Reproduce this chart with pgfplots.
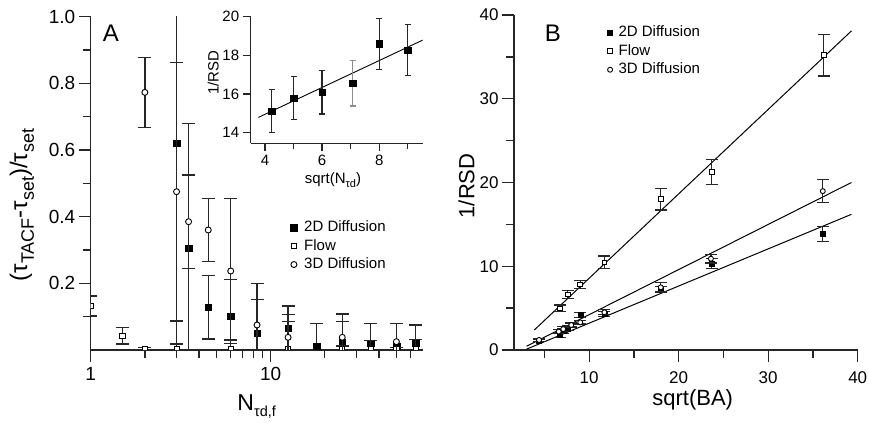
\documentclass[border=0pt]{standalone}
\usepackage{fontspec}
\setmainfont{Liberation Sans}
\usepackage{pgfplots}
\pgfplotsset{compat=1.18}
\newcommand\fs[1]{\fontsize{#1bp}{#1bp}\selectfont}
\newcommand\sub[2][15]{\raisebox{-0.28em}{\fs{#1}#2}}
\pgfplotsset{
  base/.style={
    scale only axis,
    axis x line=bottom, axis y line=left,
    axis line style={-, line width=1.4bp, black!85},
    tick align=outside,
    every tick/.style={line width=1.3bp, black!85},
    /pgf/number format/assume math mode=true,
    clip marker paths=true,
    error bars/error bar style={line width=1.3bp, black!85},
  },
  fsq/.style={only marks, mark=square*, mark size=#1, mark options={draw=black, fill=black}},
  osq/.style={only marks, mark=square*, mark size=#1, mark options={draw=black, fill=white, line width=0.9bp}},
  oci/.style={only marks, mark=*, mark size=#1, mark options={draw=black, fill=white, line width=0.9bp}},
  eb/.style={error bars/.cd, y dir=both, y explicit, error mark options={rotate=90, mark size=#1, line width=1.3bp, black!85}},
}
\begin{document}
\begin{tikzpicture}
% ---------------- Panel A ----------------
\begin{axis}[base, at={(90.7bp,76bp)}, anchor=south west, width=332bp, height=333.3bp,
  xmode=log, xmin=1, xmax=70, ymin=0, ymax=1,
  xtick={1,10}, xticklabels={1,10},
  minor xtick={2,3,4,5,6,7,8,9,20,30,40,50,60},
  ytick={0.2,0.4,0.6,0.8,1.0}, yticklabels={0.2,0.4,0.6,0.8,1.0},
  minor ytick={0.1,0.3,0.5,0.7,0.9},
  major tick length=12bp, minor tick length=8bp,
  ticklabel style={font=\fs{19}},
  xticklabel style={yshift=-2bp},
  xlabel={N\sub[14.5]{τd,f}},
  ylabel={(τ\sub[18]{TACF}-τ\sub[18]{set})/τ\sub[18]{set}},
  x label style={at={(axis description cs:0.5,-0.17)}, anchor=center, font=\fs{23}},
  y label style={at={(axis description cs:-0.207,0.435)}, anchor=center, font=\fs{24}},
  legend style={draw=none, fill=none, font=\fs{15}, at={(0.5925,0.398)}, anchor=north west,
    row sep=2.5bp, column sep=6bp, nodes={inner sep=1bp, text height=11bp, text depth=3bp}},
  legend cell align=left,
]
\addplot[fsq=3.3bp, eb=6.5bp] table[x=x, y=y, y error=e] {
x y e
3.0 0.62 0.70
3.5 0.305 0.375
4.5 0.128 0.095
6.0 0.102 0.11
8.4 0.05 0.102
12.5 0.065 0.067
18.0 0.012 0.068
25.0 0.023 0.062
36.0 0.020 0.060
50.0 0.012 0.068
64.0 0.020 0.055
};
\addlegendentry{2D Diffusion}
\addplot[osq=2.6bp, eb=6.5bp] table[x=x, y=y, y error=e] {
x y e
1.0 0.132 0.03
1.5 0.043 0.025
2.0 0.002 0.005
3.0 0.002 0.016
6.0 0.002 0.028
12.5 0.002 0.083
25.0 0.002 0.01
36.0 0.002 0.026
50.0 0.002 0.005
64.0 0.002 0.03
};
\addlegendentry{Flow}
\addplot[oci=3bp, eb=6.5bp] table[x=x, y=y, y error=e] {
x y e
2.0 0.773 0.105
3.0 0.475 0.388
3.5 0.385 0.14
4.5 0.36 0.095
6.0 0.237 0.218
8.4 0.075 0.125
12.5 0.038 0.068
25.0 0.038 0.07
50.0 0.025 0.055
};
\addlegendentry{3D Diffusion}
\node[font=\fs{24}] at (rel axis cs:0.061,0.951) {A};
\end{axis}
% ---------------- Inset ----------------
\begin{axis}[base, at={(250.7bp,282.7bp)}, anchor=south west, width=172bp, height=126.6bp,
  xmin=3.5, xmax=9.52, ymin=13.45, ymax=20,
  xtick={4,6,8}, minor xtick={5,7,9}, ytick={14,16,18,20},
  major tick length=8bp, minor tick length=6bp,
  ticklabel style={font=\fs{15}},
  xlabel={sqrt(N\sub[11]{τd})}, ylabel={1/RSD},
  x label style={at={(axis description cs:0.478,-0.29)}, anchor=center, font=\fs{15}},
  y label style={at={(axis description cs:-0.217,0.557)}, anchor=center, font=\fs{15}},
]
\addplot[forget plot, black, line width=0.9bp] coordinates {(3.77,14.79) (9.52,18.79)};
\addplot[fsq=3.3bp, eb=3bp] table[x=x, y=y, y error=e] {
x y e
4.24 15.12 1.1
5.0 15.79 1.1
6.0 16.09 1.13
8.0 18.59 1.33
9.0 18.26 1.32
};
\addplot[fsq=3.3bp, error bars/error bar style={line width=1.3bp, black!45}, error bars/.cd, y dir=both, y explicit, error mark options={rotate=90, mark size=3bp, line width=1.3bp, black!45}] table[x=x, y=y, y error=e] {
x y e
7.07 16.55 1.17
};
\end{axis}
% ---------------- Panel B ----------------
\begin{axis}[base, at={(514bp,76bp)}, anchor=south west, width=343.7bp, height=335bp,
  xmin=1.6, xmax=40, ymin=0, ymax=40,
  xtick={10,20,30,40}, minor xtick={5,15,25,35},
  ytick={0,10,20,30,40}, minor ytick={5,15,25,35},
  major tick length=12bp, minor tick length=8bp,
  ticklabel style={font=\fs{17}},
  xticklabel style={yshift=-6bp},
  xlabel={sqrt(BA)}, ylabel={1/RSD},
  x label style={at={(axis description cs:0.52,-0.15)}, anchor=center, font=\fs{22}},
  y label style={at={(axis description cs:-0.138,0.49)}, anchor=center, font=\fs{22}},
  legend style={draw=none, fill=none, font=\fs{15}, at={(0.263,0.9775)}, anchor=north west,
    row sep=2.5bp, column sep=5bp, nodes={inner sep=1bp, text height=11bp, text depth=3bp}},
  legend cell align=left,
]
\addplot[forget plot, black, line width=1bp] coordinates {(3.87,2.39) (39.3,38.1)};
\addplot[forget plot, black, line width=1bp] coordinates {(3.0,0.45) (39.3,20.0)};
\addplot[forget plot, black, line width=1bp] coordinates {(3.0,0.1) (39.3,16.2)};
\addplot[fsq=2.5bp, eb=6bp] table[x=x, y=y, y error=e] {
x y e
4.4 1.15 0.15
6.7 1.8 0.3
7.1 2.3 0.3
7.6 2.6 0.3
9.0 4.18 0.28
11.7 4.3 0.3
18.0 7.2 0.35
23.7 10.3 0.6
36.1 13.85 0.9
};
\addlegendentry{2D Diffusion}
\addplot[osq=2.3bp, eb=6bp] table[x=x, y=y, y error=e] {
x y e
6.7 4.97 0.4
7.6 6.64 0.5
9.0 7.84 0.48
11.7 10.47 0.75
18.0 18.0 1.3
23.7 21.25 1.5
36.2 35.2 2.5
};
\addlegendentry{Flow}
\addplot[oci=2.5bp, eb=6bp] table[x=x, y=y, y error=e] {
x y e
4.4 1.2 0.15
6.6 2.2 0.25
7.1 2.5 0.3
8.0 2.98 0.25
9.0 3.3 0.2
11.7 4.5 0.3
18.0 7.48 0.55
23.6 10.9 0.5
36.1 18.97 1.35
};
\addlegendentry{3D Diffusion}
\node[font=\fs{24}] at (rel axis cs:0.113,0.946) {B};
\end{axis}
\pgfresetboundingbox
\path[use as bounding box] (0,0) rectangle (869bp,426bp);
\end{tikzpicture}
\end{document}
